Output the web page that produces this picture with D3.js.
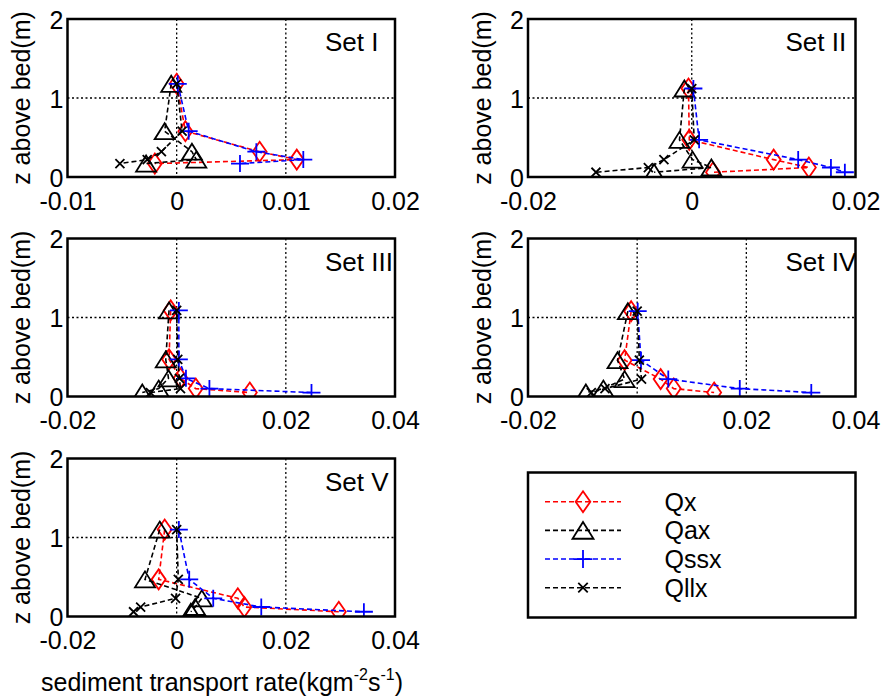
<!DOCTYPE html>
<html><head><meta charset="utf-8">
<script src="https://cdn.jsdelivr.net/npm/d3@7"></script>
<style>body{margin:0;background:#fff}</style>
</head><body>
<svg id="c" width="885" height="698"></svg>
<script>
// ---------- data ----------
const seriesNames = ["Qx", "Qax", "Qssx", "Qllx"];
const panelLabels = ["Set I", "Set II", "Set III", "Set IV", "Set V"];
const yTickValues = [0, 1, 2];
const xTicksSetI = [-0.01, 0, 0.01, 0.02];
const xTicksSetII = [-0.02, 0, 0.02];
const xTicksWide = [-0.02, 0, 0.02, 0.04];

const zSetI = [1.18, 0.58, 0.32, 0.22, 0.17];
const qxSetI = [0, 0.0008, 0.0076, 0.011, -0.002];
const qaxSetI = [-0.0005, -0.0011, 0.0014, 0.0018, -0.0028];
const qssxSetI = [0.0001, 0.0011, 0.0073, 0.0116, 0.0058];
const qllxSetI = [0, 0.0005, -0.0014, -0.0027, -0.0052];

const zSetII = [1.12, 0.47, 0.22, 0.12, 0.06];
const qxSetII = [-0.0004, -0.0003, 0.0100, 0.0143, 0.0026];
const qaxSetII = [-0.0009, -0.0015, 0.0001, 0.0024, -0.0046];
const qssxSetII = [0.0002, 0.0009, 0.0130, 0.0170, 0.0187];
const qllxSetII = [0, 0.0003, -0.0034, -0.0053, -0.0117];

const zSetIII = [1.09, 0.47, 0.23, 0.10, 0.05];
const qxSetIII = [-0.0011, -0.0014, 0.0007, 0.0035, 0.0134];
const qaxSetIII = [-0.0014, -0.0020, -0.0015, -0.0033, -0.0063];
const qssxSetIII = [0.0004, 0.0004, 0.0017, 0.0060, 0.0247];
const qllxSetIII = [0, 0.0002, 0.0005, 0.0007, -0.0048];

const zSetIV = [1.08, 0.46, 0.22, 0.10, 0.05];
const qxSetIV = [-0.0011, -0.0023, 0.0043, 0.0067, 0.0141];
const qaxSetIV = [-0.0017, -0.0036, -0.0023, -0.0062, -0.0094];
const qssxSetIV = [0.0001, 0.0007, 0.0057, 0.0188, 0.0319];
const qllxSetIV = [0, 0.0004, 0.0008, -0.0059, -0.0084];

const zSetV = [1.10, 0.47, 0.23, 0.12, 0.06];
const qxSetV = [-0.0022, -0.0033, 0.0112, 0.0124, 0.0297];
const qaxSetV = [-0.0031, -0.0058, 0.0046, 0.0034, 0.0026];
const qssxSetV = [0.0004, 0.0023, 0.0067, 0.0155, 0.0343];
const qllxSetV = [0, 0.0003, -0.0002, -0.0066, -0.0079];

// ---------- layout ----------
const FONT = "'Liberation Sans', Arial, Helvetica, sans-serif";
const colLeft = [67.5, 528], rowTop = [19, 238.5, 458.5];
const PW = 327.5, PH = 158;
const colors = {Qx: "#ff0000", Qax: "#000000", Qssx: "#0000ff", Qllx: "#000000"};
const markerPath = {
  Qx: (s) => `M0,${-10*s}L${7*s},0L0,${10*s}L${-7*s},0Z`,
  Qax: (s) => `M0,${-8*s}L${10*s},${8*s}L${-10*s},${8*s}Z`,
  Qssx: (s) => `M${-9*s},0H${9*s}M0,${-8.5*s}V${8.5*s}`,
  Qllx: (s) => `M${-4.5*s},${-4.5*s}L${4.5*s},${4.5*s}M${-4.5*s},${4.5*s}L${4.5*s},${-4.5*s}`
};

const panels = [
  {label: panelLabels[0], col: 0, row: 0, xTicks: xTicksSetI, z: zSetI, s: [qxSetI, qaxSetI, qssxSetI, qllxSetI]},
  {label: panelLabels[1], col: 1, row: 0, xTicks: xTicksSetII, z: zSetII, s: [qxSetII, qaxSetII, qssxSetII, qllxSetII]},
  {label: panelLabels[2], col: 0, row: 1, xTicks: xTicksWide, z: zSetIII, s: [qxSetIII, qaxSetIII, qssxSetIII, qllxSetIII]},
  {label: panelLabels[3], col: 1, row: 1, xTicks: xTicksWide, z: zSetIV, s: [qxSetIV, qaxSetIV, qssxSetIV, qllxSetIV]},
  {label: panelLabels[4], col: 0, row: 2, xTicks: xTicksWide, z: zSetV, s: [qxSetV, qaxSetV, qssxSetV, qllxSetV]}
];

const svg = d3.select("#c").style("font-family", FONT);
const fmt = (d) => d === 0 ? "0" : String(d);

panels.forEach((p, i) => {
  const x0 = colLeft[p.col], y0 = rowTop[p.row];
  const g = svg.append("g").attr("transform", `translate(${x0},${y0})`);
  const x = d3.scaleLinear().domain(d3.extent(p.xTicks)).range([0, PW]);
  const y = d3.scaleLinear().domain([0, 2]).range([PH, 0]);
  const clipId = "clip" + i;
  g.append("clipPath").attr("id", clipId).append("rect").attr("width", PW).attr("height", PH);

  // grid
  const grid = g.append("g").attr("stroke", "#000").attr("stroke-width", 1.3).attr("stroke-dasharray", "2,2.5");
  grid.selectAll("line.vx").data(p.xTicks.slice(1, -1)).join("line")
    .attr("x1", d => x(d)).attr("x2", d => x(d)).attr("y1", 0).attr("y2", PH);
  grid.selectAll("line.hy").data(yTickValues.slice(1, -1)).join("line")
    .attr("x1", 0).attr("x2", PW).attr("y1", d => y(d)).attr("y2", d => y(d));

  // axes labels
  const xAxis = d3.axisBottom(x).tickValues(p.xTicks).tickFormat(fmt).tickSize(0).tickPadding(0);
  const xa = g.append("g").attr("transform", `translate(0,${PH})`).call(xAxis);
  xa.select(".domain").remove();
  xa.selectAll("text").attr("y", 32.5).attr("dy", null).attr("font-size", 25).attr("font-family", FONT).attr("fill", "#000");
  const yAxis = d3.axisLeft(y).tickValues(yTickValues).tickFormat(fmt).tickSize(0).tickPadding(0);
  const ya = g.append("g").call(yAxis);
  ya.select(".domain").remove();
  ya.selectAll("text").attr("x", -4).attr("dy", "0.36em").attr("font-size", 25).attr("font-family", FONT).attr("fill", "#000");

  // y label
  g.append("text").attr("transform", `translate(${-37.5},${PH / 2}) rotate(-90)`)
    .attr("text-anchor", "middle").attr("font-size", 25).text("z above bed(m)");

  // data
  const plot = g.append("g").attr("clip-path", `url(#${clipId})`);
  const line = d3.line().x(d => x(d[0])).y(d => y(d[1]));
  p.s.forEach((vals, k) => {
    const name = seriesNames[k];
    const pts = vals.map((v, j) => [v, p.z[j]]);
    plot.append("path").datum(pts).attr("d", line).attr("fill", "none")
      .attr("stroke", colors[name]).attr("stroke-width", 1.6).attr("stroke-dasharray", "5,3");
    plot.selectAll(null).data(pts).join("path")
      .attr("transform", d => `translate(${x(d[0])},${y(d[1])})`)
      .attr("d", markerPath[name](1)).attr("fill", "none")
      .attr("stroke", colors[name]).attr("stroke-width", 1.8);
  });

  // set label
  plot.append("text").attr("x", 257.5).attr("y", 32).attr("font-size", 26).text(p.label);

  // frame
  g.append("rect").attr("width", PW).attr("height", PH).attr("fill", "none")
    .attr("stroke", "#000").attr("stroke-width", 2.5);
});

// x axis title under bottom panel
const xt = svg.append("text").attr("x", 222).attr("y", 691).attr("text-anchor", "middle").attr("font-size", 25);
xt.append("tspan").text("sediment transport rate(kgm");
xt.append("tspan").attr("font-size", 16).attr("dy", -11).text("-2");
xt.append("tspan").attr("dy", 11).text("s");
xt.append("tspan").attr("font-size", 16).attr("dy", -11).text("-1");
xt.append("tspan").attr("dy", 11).text(")");

// legend
const lg = svg.append("g").attr("transform", `translate(${colLeft[1]},472.5)`);
lg.append("rect").attr("width", PW).attr("height", 145).attr("fill", "none").attr("stroke", "#000").attr("stroke-width", 2.5);
const legendRowY = d3.scalePoint().domain(seriesNames).range([29.2, 115.2]);
seriesNames.forEach((name) => {
  const ry = legendRowY(name);
  lg.append("line").attr("x1", 17).attr("x2", 93).attr("y1", ry).attr("y2", ry)
    .attr("stroke", colors[name]).attr("stroke-width", 1.6).attr("stroke-dasharray", "5,3");
  const sc = name === "Qllx" ? 1.05 : 1.05;
  lg.append("path").attr("transform", `translate(55,${ry})`).attr("d", markerPath[name](sc))
    .attr("fill", "none").attr("stroke", colors[name]).attr("stroke-width", 1.8);
  lg.append("text").attr("x", 136.5).attr("y", ry + 9).attr("font-size", 25).text(name);
});
</script>
</body></html>
